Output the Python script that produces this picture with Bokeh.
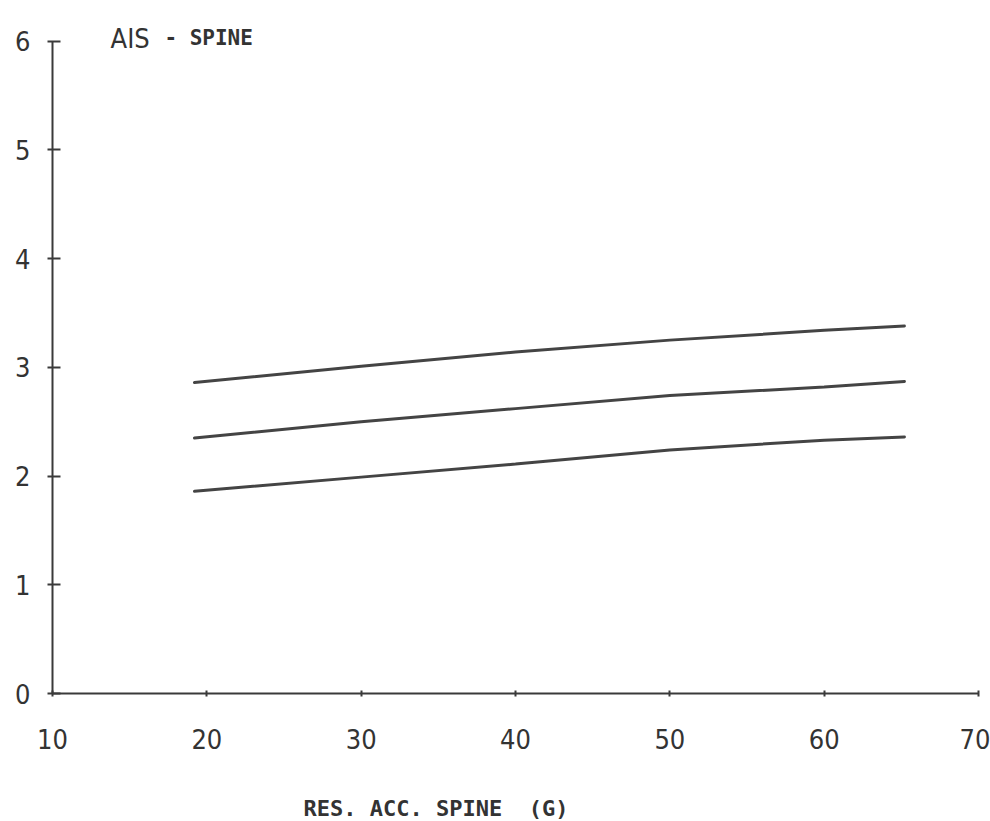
from bokeh.plotting import figure
from bokeh.models import Range1d, FixedTicker, Label, Title
from bokeh.embed import file_html
from bokeh.resources import INLINE

# Data
res_acc_spine = [19.2, 30, 40, 50, 60, 65.2]
ais_upper = [2.86, 3.01, 3.14, 3.25, 3.34, 3.38]
ais_middle = [2.35, 2.50, 2.62, 2.74, 2.82, 2.87]
ais_lower = [1.86, 1.99, 2.11, 2.24, 2.33, 2.36]
x_ticks = [10, 20, 30, 40, 50, 60, 70]
y_ticks = [0, 1, 2, 3, 4, 5, 6]

INK = "#3a3a3a"
NARROW = "DejaVu Sans Condensed"
MONO = "DejaVu Sans Mono"

p = figure(width=990, height=821,
           x_range=Range1d(10, 70), y_range=Range1d(0, 6.3),
           output_backend="svg", toolbar_location=None,
           min_border_left=52, min_border_right=12,
           min_border_top=8, min_border_bottom=0)
p.outline_line_color = None
p.grid.visible = False
p.background_fill_color = "white"
p.border_fill_color = "white"

# x axis
xa = p.xaxis[0]
xa.ticker = FixedTicker(ticks=x_ticks)
xa.bounds = (10, 70)
xa.axis_line_color = INK
xa.axis_line_width = 2
xa.major_tick_line_color = INK
xa.major_tick_line_width = 2
xa.major_tick_in = 3
xa.major_tick_out = 3
xa.minor_tick_line_color = None
xa.major_label_standoff = 32
xa.major_label_text_font = NARROW
xa.major_label_text_font_size = "27px"
xa.major_label_text_color = "#333333"

# y axis
ya = p.yaxis[0]
ya.ticker = FixedTicker(ticks=y_ticks)
ya.bounds = (0, 6)
ya.axis_line_color = INK
ya.axis_line_width = 2
ya.major_tick_line_color = INK
ya.major_tick_line_width = 2
ya.major_tick_in = 8
ya.major_tick_out = 5
ya.minor_tick_line_color = None
ya.major_label_standoff = 17
ya.major_label_text_font = NARROW
ya.major_label_text_font_size = "27px"
ya.major_label_text_color = "#333333"

for ys in (ais_upper, ais_middle, ais_lower):
    p.line(res_acc_spine, ys, line_color="#444444", line_width=3, line_cap="round")

# chart title (inside the frame, above the y axis top)
p.add_layout(Label(x=13.76, y=6.028, text="AIS", text_font=NARROW,
                   text_font_size="27px", text_color="#333333",
                   text_baseline="alphabetic", text_align="left"))
p.add_layout(Label(x=17.25, y=6.028, text="- SPINE", text_font=MONO,
                   text_font_size="21px", text_font_style="bold",
                   text_color="#333333",
                   text_baseline="alphabetic", text_align="left"))

# spacer + x-axis title below the axis
spacer = Title(text=".", text_font_size="8px", text_color="white", standoff=34)
p.add_layout(spacer, "below")
xlab = Title(text="RES. ACC. SPINE\u00a0\u00a0(G)", align="left", offset=251,
             vertical_align="bottom",
             text_font=MONO, text_font_size="22px", text_font_style="bold",
             text_color="#333333", standoff=2)
p.add_layout(xlab, "below")

open("out.html", "w").write(file_html(p, INLINE))
